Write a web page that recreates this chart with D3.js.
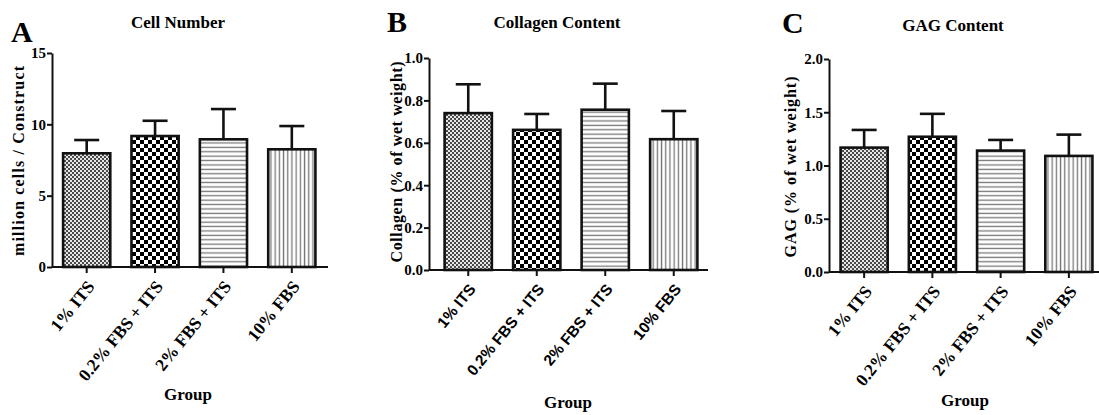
<!DOCTYPE html>
<html>
<head>
    <title>Cell Number / Collagen / GAG</title>
    <script src="https://d3js.org/d3.v7.min.js"></script>
    <style>
        body { margin: 0; background: white; }
        svg text { fill: black; }
    </style>
</head>
<body>
    <script>
        //****DATA****
        const groups = ['1% ITS', '0.2% FBS + ITS', '2% FBS + ITS', '10% FBS'];

        const cellMean = [7.97, 9.18, 8.95, 8.25];
        const cellErr = [0.93, 1.07, 2.12, 1.63];
        const cellTicks = [0, 5, 10, 15];

        const collagenMean = [0.74, 0.661, 0.756, 0.617];
        const collagenErr = [0.136, 0.075, 0.123, 0.133];
        const collagenTicks = [0, 0.2, 0.4, 0.6, 0.8, 1.0];

        const gagMean = [1.168, 1.27, 1.14, 1.09];
        const gagErr = [0.166, 0.215, 0.10, 0.20];
        const gagTicks = [0, 0.5, 1.0, 1.5, 2.0];

        const serif = '"Liberation Serif", "Times New Roman", serif';
        const sans = '"Liberation Sans", Arial, sans-serif';

        //****PANEL LAYOUT****
        const panels = [
            {
                letter: 'A', title: 'Cell Number', ylabel: 'million cells / Construct',
                mean: cellMean, err: cellErr, ticks: cellTicks, fmt: d3.format('d'), yMax: 15,
                axisX: 52, top: 53, bottom: 267, band: [52.5, 326], xEnd: 328,
                letterX: 11, letterY: 42, titleX: 178, titleY: 28,
                ylabX: 24, ylabY: 161, ylabLen: 190, groupX: 188, groupY: 400, tickFont: serif
            },
            {
                letter: 'B', title: 'Collagen Content', ylabel: 'Collagen (% of wet weight)',
                mean: collagenMean, err: collagenErr, ticks: collagenTicks, fmt: d3.format('.1f'), yMax: 1,
                axisX: 429, top: 58, bottom: 270, band: [434, 708], xEnd: 708,
                letterX: 387, letterY: 32, titleX: 557, titleY: 28,
                ylabX: 402, ylabY: 162, ylabLen: 201, groupX: 568, groupY: 408, tickFont: sans
            },
            {
                letter: 'C', title: 'GAG Content', ylabel: 'GAG (% of wet weight)',
                mean: gagMean, err: gagErr, ticks: gagTicks, fmt: d3.format('.1f'), yMax: 2,
                axisX: 829, top: 59, bottom: 272, band: [830, 1103], xEnd: 1099,
                letterX: 782, letterY: 33, titleX: 953, titleY: 31,
                ylabX: 796, ylabY: 167, ylabLen: 181, groupX: 965, groupY: 406, tickFont: serif
            }
        ];

        const width = 1099;
        const height = 415;

        const svg = d3.select('body')
            .append('svg')
            .attr('width', width)
            .attr('height', height);

        svg.append('rect')
            .attr('width', width)
            .attr('height', height)
            .attr('fill', 'white');

        //****FILL PATTERNS****
        const defs = svg.append('defs');

        // fine checker
        const p1 = defs.append('pattern')
            .attr('id', 'pat0').attr('patternUnits', 'userSpaceOnUse')
            .attr('width', 4).attr('height', 4);
        p1.append('rect').attr('width', 4).attr('height', 4).attr('fill', '#e6e6e6');
        p1.append('rect').attr('width', 2).attr('height', 2).attr('fill', '#4a4a4a');
        p1.append('rect').attr('x', 2).attr('y', 2).attr('width', 2).attr('height', 2).attr('fill', '#4a4a4a');

        // coarse checker
        const p2 = defs.append('pattern')
            .attr('id', 'pat1').attr('patternUnits', 'userSpaceOnUse')
            .attr('width', 8).attr('height', 8);
        p2.append('rect').attr('width', 8).attr('height', 8).attr('fill', 'white');
        p2.append('rect').attr('width', 4).attr('height', 4).attr('fill', '#000');
        p2.append('rect').attr('x', 4).attr('y', 4).attr('width', 4).attr('height', 4).attr('fill', '#000');

        // horizontal lines
        const p3 = defs.append('pattern')
            .attr('id', 'pat2').attr('patternUnits', 'userSpaceOnUse')
            .attr('width', 8).attr('height', 4.4);
        p3.append('rect').attr('width', 8).attr('height', 4.4).attr('fill', 'white');
        p3.append('rect').attr('y', 1.5).attr('width', 8).attr('height', 1.3).attr('fill', '#777');

        // vertical lines
        const p4 = defs.append('pattern')
            .attr('id', 'pat3').attr('patternUnits', 'userSpaceOnUse')
            .attr('width', 4.2).attr('height', 8);
        p4.append('rect').attr('width', 4.2).attr('height', 8).attr('fill', 'white');
        p4.append('rect').attr('x', 1.5).attr('width', 1.3).attr('height', 8).attr('fill', '#777');

        //****DRAW EACH PANEL****
        panels.forEach(p => {
            const g = svg.append('g');

            const x = d3.scaleBand()
                .domain(groups)
                .range(p.band)
                .paddingInner(0.31)
                .paddingOuter(0.155);

            const y = d3.scaleLinear()
                .domain([0, p.yMax])
                .range([p.bottom, p.top]);

            const data = groups.map((grp, i) => ({ grp: grp, i: i, mean: p.mean[i], err: p.err[i] }));

            // error bars (upper only)
            const eb = g.append('g')
                .attr('stroke', '#111')
                .attr('stroke-width', 2.6);

            eb.selectAll('.ev')
                .data(data)
                .enter()
                .append('line')
                .attr('x1', d => x(d.grp) + x.bandwidth() / 2)
                .attr('x2', d => x(d.grp) + x.bandwidth() / 2)
                .attr('y1', d => y(d.mean))
                .attr('y2', d => y(d.mean + d.err));

            eb.selectAll('.ec')
                .data(data)
                .enter()
                .append('line')
                .attr('x1', d => x(d.grp) + x.bandwidth() / 2 - 12.5)
                .attr('x2', d => x(d.grp) + x.bandwidth() / 2 + 12.5)
                .attr('y1', d => y(d.mean + d.err))
                .attr('y2', d => y(d.mean + d.err));

            // bars
            g.selectAll('.bar')
                .data(data)
                .enter()
                .append('rect')
                .attr('class', 'bar')
                .attr('x', d => x(d.grp))
                .attr('y', d => y(d.mean))
                .attr('width', x.bandwidth())
                .attr('height', d => y(0) - y(d.mean))
                .attr('fill', d => `url(#pat${d.i})`)
                .attr('stroke', '#111')
                .attr('stroke-width', 2.6);

            // y axis
            const yAxis = d3.axisLeft(y)
                .tickValues(p.ticks)
                .tickFormat(p.fmt)
                .tickSize(5)
                .tickSizeOuter(0)
                .tickPadding(1);

            const ya = g.append('g')
                .attr('transform', `translate(${p.axisX},0)`)
                .call(yAxis);
            ya.select('.domain').attr('stroke', '#111').attr('stroke-width', 2);
            ya.selectAll('.tick line').attr('stroke', '#111').attr('stroke-width', 2);
            ya.selectAll('.tick text')
                .style('font-family', serif)
                .style('font-weight', 'bold')
                .style('font-size', '15px');

            // x axis
            g.append('line')
                .attr('x1', p.axisX)
                .attr('x2', p.xEnd)
                .attr('y1', p.bottom)
                .attr('y2', p.bottom)
                .attr('stroke', '#111')
                .attr('stroke-width', 2);

            const xAxis = d3.axisBottom(x)
                .tickSize(6)
                .tickSizeOuter(0);

            const xa = g.append('g')
                .attr('transform', `translate(0,${p.bottom})`)
                .call(xAxis);
            xa.select('.domain').remove();
            xa.selectAll('.tick line').attr('stroke', '#111').attr('stroke-width', 2);
            xa.selectAll('.tick text')
                .attr('x', 0)
                .attr('y', 0)
                .attr('dy', '0.35em')
                .attr('transform', 'translate(4,16) rotate(-51)')
                .style('text-anchor', 'end')
                .style('font-family', p.tickFont)
                .style('font-weight', 'bold')
                .style('font-size', p.tickFont === sans ? '15.5px' : '17.5px');

            // panel letter
            g.append('text')
                .attr('x', p.letterX)
                .attr('y', p.letterY)
                .style('font-family', serif)
                .style('font-weight', 'bold')
                .style('font-size', '30px')
                .text(p.letter);

            // title
            g.append('text')
                .attr('x', p.titleX)
                .attr('y', p.titleY)
                .attr('text-anchor', 'middle')
                .style('font-family', serif)
                .style('font-weight', 'bold')
                .style('font-size', '17px')
                .text(p.title);

            // y axis label
            g.append('text')
                .attr('transform', `translate(${p.ylabX},${p.ylabY}) rotate(-90)`)
                .attr('text-anchor', 'middle')
                .attr('textLength', p.ylabLen)
                .attr('lengthAdjust', 'spacing')
                .style('font-family', serif)
                .style('font-weight', 'bold')
                .style('font-size', '16px')
                .text(p.ylabel);

            // x axis label
            g.append('text')
                .attr('x', p.groupX)
                .attr('y', p.groupY)
                .attr('text-anchor', 'middle')
                .style('font-family', serif)
                .style('font-weight', 'bold')
                .style('font-size', '17px')
                .text('Group');
        });
    </script>
</body>
</html>
